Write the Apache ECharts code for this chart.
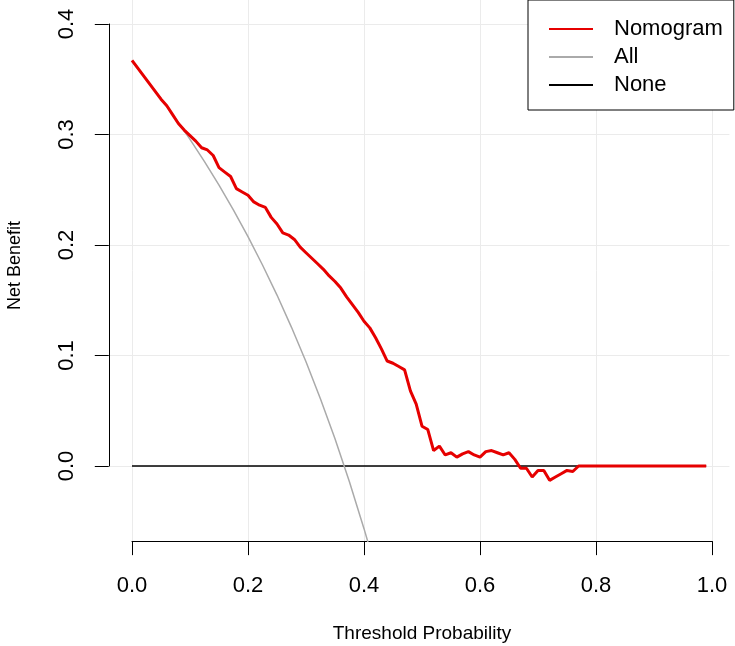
<!DOCTYPE html>
<html>
<head>
<meta charset="UTF-8">
<script src="https://cdn.jsdelivr.net/npm/echarts@6/dist/echarts.min.js"></script>
<style>
    html, body { margin: 0; padding: 0; background: #fff; }
    #dca { width: 735px; height: 646px; }
</style>
</head>
<body>
<div id="dca"></div>
<script>
    /* 阈值概率 */
    var thresholds = [0.00, 0.01, 0.02, 0.03, 0.04, 0.05, 0.06, 0.07, 0.08, 0.09,
        0.10, 0.11, 0.12, 0.13, 0.14, 0.15, 0.16, 0.17, 0.18, 0.19,
        0.20, 0.21, 0.22, 0.23, 0.24, 0.25, 0.26, 0.27, 0.28, 0.29,
        0.30, 0.31, 0.32, 0.33, 0.34, 0.35, 0.36, 0.37, 0.38, 0.39,
        0.40, 0.41, 0.42, 0.43, 0.44, 0.45, 0.46, 0.47, 0.48, 0.49,
        0.50, 0.51, 0.52, 0.53, 0.54, 0.55, 0.56, 0.57, 0.58, 0.59,
        0.60, 0.61, 0.62, 0.63, 0.64, 0.65, 0.66, 0.67, 0.68, 0.69,
        0.70, 0.71, 0.72, 0.73, 0.74, 0.75, 0.76, 0.77, 0.78, 0.79,
        0.80, 0.81, 0.82, 0.83, 0.84, 0.85, 0.86, 0.87, 0.88, 0.89,
        0.90, 0.91, 0.92, 0.93, 0.94, 0.95, 0.96, 0.97, 0.98, 0.99];

    /* Nomogram 净获益 */
    var nomogram = [0.367, 0.360, 0.353, 0.346, 0.339, 0.332, 0.326, 0.318, 0.310, 0.304,
        0.299, 0.294, 0.288, 0.286, 0.281, 0.270, 0.266, 0.262, 0.251, 0.248,
        0.245, 0.239, 0.236, 0.234, 0.225, 0.219, 0.211, 0.209, 0.205, 0.198,
        0.193, 0.188, 0.183, 0.178, 0.172, 0.167, 0.161, 0.153, 0.146, 0.139,
        0.131, 0.125, 0.116, 0.106, 0.095, 0.093, 0.090, 0.087, 0.068, 0.056,
        0.036, 0.033, 0.014, 0.018, 0.010, 0.012, 0.008, 0.011, 0.013, 0.010,
        0.008, 0.013, 0.014, 0.012, 0.010, 0.012, 0.006, -0.002, -0.002, -0.010,
        -0.004, -0.004, -0.013, -0.010, -0.007, -0.004, -0.005, 0, 0, 0,
        0, 0, 0, 0, 0, 0, 0, 0, 0, 0,
        0, 0, 0, 0, 0, 0, 0, 0, 0, 0];

    /* All（全部干预） */
    var allX = [0, 0.025, 0.05, 0.075, 0.10, 0.125, 0.15, 0.175, 0.20, 0.225,
        0.25, 0.275, 0.30, 0.325, 0.35, 0.375, 0.40, 0.41];
    var allY = [0.366, 0.3497, 0.3326, 0.3146, 0.2956, 0.2754, 0.2541, 0.2315, 0.2075, 0.1819,
        0.1547, 0.1255, 0.0943, 0.0607, 0.0246, -0.0144, -0.0567, -0.0746];

    /* None（均不干预） */
    var noneX = [0, 0.99];
    var noneY = [0, 0];

    /* 刻度 */
    var xTicks = [0, 0.2, 0.4, 0.6, 0.8, 1.0];
    var yTicks = [0, 0.1, 0.2, 0.3, 0.4];

    function pairs(xs, ys) {
        var out = [];
        for (var i = 0; i < xs.length; i++) {
            out.push([xs[i], ys[i]]);
        }
        return out;
    }

    var chart = function () {
        var font = 'Liberation Sans, Arial, Helvetica, sans-serif';
        var pxX = 580;   // 每单位 x 的像素
        var pxY = 1105;  // 每单位 y 的像素
        var x0 = 132, y0 = 466;  // 原点像素
        var gridColor = '#ebebeb';

        // 绘图区范围（R 风格, 轴线外扩）
        var plotXMin = -0.04, plotXMax = 1.03;
        var plotYMin = -0.068, plotYMax = 0.42;

        var dcaChart = echarts.init(document.getElementById('dca'), null, {renderer: 'canvas'});
        var dcaOption = {
            animation: false,
            backgroundColor: '#ffffff',
            textStyle: {fontFamily: font, color: '#000'},
            legend: {
                data: ['Nomogram', 'All', 'None'],
                orient: 'vertical',
                left: 528,
                top: 0,
                padding: [18, 11, 14, 20],
                itemGap: 6,
                itemWidth: 44,
                itemHeight: 14,
                backgroundColor: '#ffffff',
                borderColor: '#000',
                borderWidth: 1,
                borderRadius: 0,
                selectedMode: false,
                itemStyle: {opacity: 0},
                textStyle: {
                    fontFamily: font,
                    fontSize: 22,
                    lineHeight: 22,
                    color: '#000',
                    padding: [0, 0, 0, 16]
                }
            },
            grid: [
                // 绘图区
                {
                    left: x0 + plotXMin * pxX,
                    top: y0 - plotYMax * pxY,
                    width: (plotXMax - plotXMin) * pxX,
                    height: (plotYMax - plotYMin) * pxY,
                    containLabel: false,
                    outerBoundsMode: 'none'
                },
                // x 轴
                {
                    left: x0, top: 0, width: pxX, height: y0 - plotYMin * pxY,
                    containLabel: false,
                    outerBoundsMode: 'none'
                },
                // y 轴
                {
                    left: x0 + plotXMin * pxX, top: y0 - 0.4 * pxY,
                    width: (plotXMax - plotXMin) * pxX, height: 0.4 * pxY,
                    containLabel: false,
                    outerBoundsMode: 'none'
                }
            ],
            xAxis: [
                {
                    gridIndex: 0, type: 'value',
                    min: plotXMin, max: plotXMax,
                    show: false
                },
                {
                    gridIndex: 1, type: 'value',
                    min: xTicks[0], max: xTicks[xTicks.length - 1], interval: 0.2,
                    name: 'Threshold Probability',
                    nameLocation: 'middle',
                    nameGap: 83,
                    nameTextStyle: {fontFamily: font, fontSize: 19, color: '#000'},
                    axisLine: {show: true, lineStyle: {color: '#000', width: 1}},
                    axisTick: {show: true, length: 14, lineStyle: {color: '#000', width: 1}},
                    axisLabel: {
                        margin: 34, fontFamily: font, fontSize: 22, color: '#000',
                        formatter: function (v) { return v.toFixed(1); }
                    },
                    splitLine: {show: true, lineStyle: {color: gridColor, width: 1}}
                },
                {
                    gridIndex: 2, type: 'value', min: 0, max: 1, show: false
                }
            ],
            yAxis: [
                {
                    gridIndex: 0, type: 'value',
                    min: plotYMin, max: plotYMax,
                    name: 'Net Benefit',
                    nameLocation: 'middle',
                    nameRotate: 90,
                    nameGap: 85,
                    nameTextStyle: {fontFamily: font, fontSize: 18, color: '#000', padding: [0, 0, 0, 12]},
                    axisLine: {show: false},
                    axisTick: {show: false},
                    axisLabel: {show: false},
                    splitLine: {show: false}
                },
                {
                    gridIndex: 1, type: 'value', min: 0, max: 1, show: false
                },
                {
                    gridIndex: 2, type: 'value',
                    min: yTicks[0], max: yTicks[yTicks.length - 1], interval: 0.1,
                    axisLine: {show: true, lineStyle: {color: '#000', width: 1}},
                    axisTick: {show: true, length: 14, lineStyle: {color: '#000', width: 1}},
                    axisLabel: {
                        margin: 31, rotate: 90, fontFamily: font, fontSize: 22, color: '#000',
                        formatter: function (v) { return v.toFixed(1); }
                    },
                    splitLine: {show: true, lineStyle: {color: gridColor, width: 1}}
                }
            ],
            series: [
                {
                    name: 'None',
                    type: 'line',
                    xAxisIndex: 0, yAxisIndex: 0,
                    data: pairs(noneX, noneY),
                    symbol: 'none',
                    lineStyle: {color: '#000000', width: 1.5},
                    itemStyle: {color: '#000000'}
                },
                {
                    name: 'All',
                    type: 'line',
                    xAxisIndex: 0, yAxisIndex: 0,
                    data: pairs(allX, allY),
                    symbol: 'none',
                    clip: true,
                    lineStyle: {color: '#aaaaaa', width: 1.5},
                    itemStyle: {color: '#aaaaaa'}
                },
                {
                    name: 'Nomogram',
                    type: 'line',
                    xAxisIndex: 0, yAxisIndex: 0,
                    data: pairs(thresholds, nomogram),
                    symbol: 'none',
                    lineStyle: {color: '#e60000', width: 3},
                    itemStyle: {color: '#e60000'}
                }
            ]
        };
        dcaChart.setOption(dcaOption);

        window.addEventListener("resize", function () {
            dcaChart.resize();
        });
    };

    chart();
</script>
</body>
</html>
